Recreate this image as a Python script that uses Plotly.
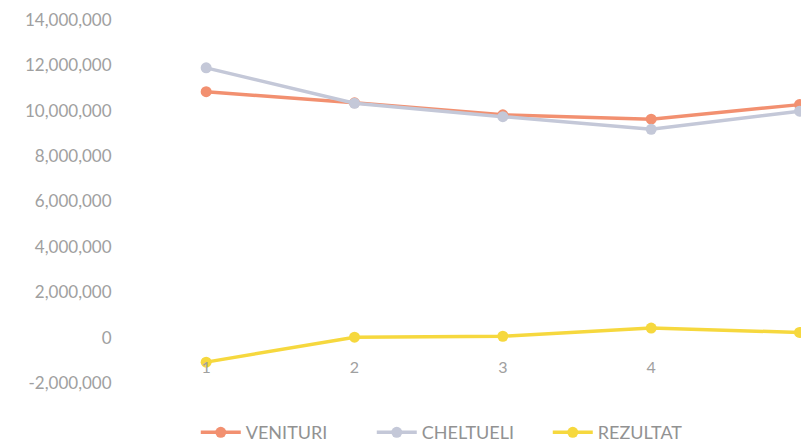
import plotly.graph_objects as go

categories = [1, 2, 3, 4, 5]
venituri = [10840000, 10350000, 9820000, 9630000, 10270000]
cheltueli = [11890000, 10330000, 9740000, 9180000, 9980000]
rezultat = [-1080000, 20000, 60000, 420000, 230000]
y_ticks = [-2000000, 0, 2000000, 4000000, 6000000, 8000000, 10000000, 12000000, 14000000]
y_tick_labels = ["-2,000,000", "0", "2,000,000", "4,000,000", "6,000,000",
                 "8,000,000", "10,000,000", "12,000,000", "14,000,000"]

series = [
    ("VENITURI", venituri, "#F29070"),
    ("CHELTUELI", cheltueli, "#C4C8D8"),
    ("REZULTAT", rezultat, "#F6D83E"),
]

fig = go.Figure()
for name, vals, color in series:
    fig.add_trace(go.Scatter(
        x=categories, y=vals, name=name, mode="lines+markers",
        line=dict(color=color, width=3.5),
        marker=dict(color=color, size=11),
        cliponaxis=False,
    ))

fig.update_layout(
    width=801, height=446,
    margin=dict(l=132, r=0, t=20, b=63),
    paper_bgcolor="white", plot_bgcolor="white",
    font=dict(family="Lato", color="#a0a0a0", size=16),
    showlegend=True,
    legend=dict(orientation="h", xref="container", x=0.574, xanchor="center",
                yref="container", y=0.03, yanchor="middle",
                font=dict(size=18, color="#929292"), itemwidth=40,
                entrywidth=121, entrywidthmode="pixels",
                traceorder="normal", tracegroupgap=0),
    xaxis=dict(range=[0.5, 5.01], tickvals=categories, ticktext=[str(c) for c in categories],
               showgrid=False, zeroline=False, showline=False,
               anchor="free", position=0.075,
               ticks="", tickfont=dict(size=16, color="#a0a0a0")),
    yaxis=dict(range=[-2000000, 14000000], tickvals=y_ticks, ticktext=y_tick_labels,
               showgrid=False, zeroline=False, showline=False,
               ticks="outside", ticklen=16, tickcolor="rgba(0,0,0,0)",
               tickfont=dict(size=17, color="#a0a0a0")),
)

fig.write_html("out.html")
